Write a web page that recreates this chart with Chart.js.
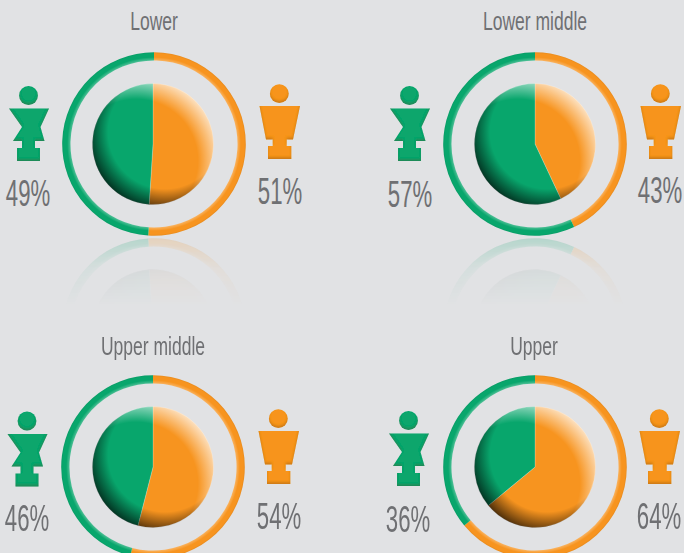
<!DOCTYPE html>
<html>
<head>
<meta charset="utf-8">
<title>Lower to upper</title>
<script src="https://cdn.jsdelivr.net/npm/chart.js@4"></script>
<style>
html, body { margin: 0; padding: 0; width: 684px; height: 553px; overflow: hidden; background: #e1e2e4; }
#stage { position: relative; width: 684px; height: 553px; overflow: hidden; }
canvas { position: absolute; }
.ringBox { position: absolute; width: 186px; height: 186px; }
.reflect { -webkit-box-reflect: below 0px linear-gradient(to bottom, transparent 63%, rgba(255,255,255,0.05) 83%, rgba(255,255,255,0.2) 100%); }
.txt { position: absolute; white-space: nowrap; color: #6f7073; font-family: "Liberation Sans", sans-serif; transform: translateX(-50%) scaleX(var(--sx)); }
.title { font-size: 25px; line-height: 26px; --sx: 0.7; }
.pct { font-size: 37px; line-height: 36px; --sx: 0.6; }
#people { position: absolute; left: 0; top: 0; }
</style>
</head>
<body>
<div id="stage">
<svg id="people" width="684" height="553" xmlns="http://www.w3.org/2000/svg">
  <defs>
    <filter id="bevel" x="-10%" y="-10%" width="120%" height="120%">
      <feComponentTransfer in="SourceAlpha" result="inv"><feFuncA type="table" tableValues="1 0"/></feComponentTransfer>
      <feOffset in="inv" dx="-0.5" dy="-1.6" result="off"/>
      <feGaussianBlur in="off" stdDeviation="1.2" result="blur"/>
      <feFlood flood-color="#3a2400" flood-opacity="0.35"/>
      <feComposite in2="blur" operator="in" result="dark"/>
      <feComposite in="dark" in2="SourceAlpha" operator="in" result="inner"/>
      <feMerge><feMergeNode in="SourceGraphic"/><feMergeNode in="inner"/></feMerge>
    </filter>
  </defs>
</svg>
</div>
<script>
const titles = ['Lower', 'Lower middle', 'Upper middle', 'Upper'];
const greenShare = [49, 57, 46, 36];
const orangeShare = [51, 43, 54, 64];

const GREEN = '#08a66c';
const ORANGE = '#f7941f';

// where each panel sits on the page
const ringCentres = [[153.5, 144], [535, 144], [153, 467], [535, 467]];
const pieCentres = [[152.5, 143.5], [535, 144], [153, 466.5], [535, 467]];
const titleCentres = [[153.5, 21], [535, 21], [152.5, 346], [534, 346]];
const greenOffsets = [[0, 0], [381, 0], [-1.5, 325.5], [380, 325]];
const orangeOffsets = [[0, 0], [381, 0], [-1, 325], [380, 325]];
const greenPctPos = [[28, 194], [409.5, 195], [27, 519], [408, 520]];
const orangePctPos = [[279.5, 191.5], [660, 191], [278.5, 516.5], [659, 517]];

const greenBody = 'M9,108.5 H49 L40.5,127 L44.5,141 H35 V148 H40 V161 H17 V148 H22 V141 H13 L22,127 Z';
const orangeBody = 'M259.5,106 H300 L293,139.5 H286.7 V146 H291.3 V159 H268 V146 H272.7 V139.5 H266 Z';

// shading for the ball, painted only over the slices
const ballShade = {
  id: 'ballShade',
  afterDatasetsDraw(chart) {
    const arc = chart.getDatasetMeta(0).data[0];
    const x = arc.x, y = arc.y, r = arc.outerRadius;
    const c = chart.ctx;
    c.save();
    c.globalCompositeOperation = 'source-atop';
    let g = c.createRadialGradient(x + r * 0.2, y - r * 0.2, r * 0.94, x + r * 0.2, y - r * 0.2, r * 1.28);
    g.addColorStop(0, 'rgba(0,0,0,0)');
    g.addColorStop(1, 'rgba(0,0,0,0.68)');
    c.fillStyle = g;
    c.fillRect(0, 0, chart.width, chart.height);
    g = c.createRadialGradient(x - r * 0.28, y + r * 0.28, r * 1.02, x - r * 0.28, y + r * 0.28, r * 1.4);
    g.addColorStop(0, 'rgba(255,255,255,0)');
    g.addColorStop(1, 'rgba(255,255,255,0.72)');
    c.fillStyle = g;
    c.fillRect(0, 0, chart.width, chart.height);
    c.restore();
  }
};

// soft bevel along the ring
const ringShade = {
  id: 'ringShade',
  afterDatasetsDraw(chart) {
    const arc = chart.getDatasetMeta(0).data[0];
    const c = chart.ctx;
    c.save();
    c.globalCompositeOperation = 'source-atop';
    const g = c.createRadialGradient(arc.x, arc.y, arc.innerRadius, arc.x, arc.y, arc.outerRadius);
    g.addColorStop(0, 'rgba(255,255,255,0.28)');
    g.addColorStop(0.4, 'rgba(255,255,255,0)');
    g.addColorStop(0.8, 'rgba(0,0,0,0)');
    g.addColorStop(1, 'rgba(0,0,0,0.06)');
    c.fillStyle = g;
    c.fillRect(0, 0, chart.width, chart.height);
    c.restore();
  }
};

function makeDoughnut(canvas, i, radius, cutout, plugin, border) {
  return new Chart(canvas, {
    type: 'doughnut',
    data: {
      labels: ['Orange', 'Green'],
      datasets: [{
        data: [orangeShare[i], greenShare[i]],
        backgroundColor: [ORANGE, GREEN],
        borderWidth: border,
        borderColor: 'rgba(255,255,255,0.35)'
      }]
    },
    options: {
      responsive: false,
      animation: false,
      radius: radius,
      cutout: cutout,
      layout: { padding: 0 },
      plugins: { legend: { display: false }, tooltip: { enabled: false }, title: { display: false } }
    },
    plugins: [plugin]
  });
}

function addText(cls, text, pos) {
  const el = document.createElement('div');
  el.className = 'txt ' + cls;
  el.textContent = text;
  el.style.left = pos[0] + 'px';
  el.style.top = (pos[1] - (cls === 'pct' ? 18 : 13)) + 'px';
  stage.appendChild(el);
}

function addPerson(color, body, head, off) {
  const ns = 'http://www.w3.org/2000/svg';
  const g = document.createElementNS(ns, 'g');
  g.setAttribute('transform', 'translate(' + off[0] + ',' + off[1] + ')');
  g.setAttribute('filter', 'url(#bevel)');
  const p = document.createElementNS(ns, 'path');
  p.setAttribute('d', body);
  p.setAttribute('fill', color);
  const h = document.createElementNS(ns, 'circle');
  h.setAttribute('cx', head[0]);
  h.setAttribute('cy', head[1]);
  h.setAttribute('r', 9.4);
  h.setAttribute('fill', color);
  g.appendChild(p);
  g.appendChild(h);
  document.getElementById('people').appendChild(g);
}

const stage = document.getElementById('stage');

titles.forEach(function(title, i) {
  const box = document.createElement('div');
  box.className = 'ringBox' + (i < 2 ? ' reflect' : '');
  box.style.left = (ringCentres[i][0] - 93) + 'px';
  box.style.top = (ringCentres[i][1] - 93) + 'px';
  stage.appendChild(box);

  const ring = document.createElement('canvas');
  ring.width = 186; ring.height = 186;
  box.appendChild(ring);
  makeDoughnut(ring, i, 91.8, '91%', ringShade, 0);

  const pie = document.createElement('canvas');
  pie.width = 130; pie.height = 130;
  pie.style.left = (pieCentres[i][0] - ringCentres[i][0] + 93 - 65) + 'px';
  pie.style.top = (pieCentres[i][1] - ringCentres[i][1] + 93 - 65) + 'px';
  box.appendChild(pie);
  makeDoughnut(pie, i, 60.5, 0, ballShade, 0.6);

  addText('title', title, titleCentres[i]);
  addText('pct', greenShare[i] + '%', greenPctPos[i]);
  addText('pct', orangeShare[i] + '%', orangePctPos[i]);

  addPerson(GREEN, greenBody, [28.5, 95.5], greenOffsets[i]);
  addPerson(ORANGE, orangeBody, [279.3, 93.7], orangeOffsets[i]);
});
</script>
</body>
</html>
